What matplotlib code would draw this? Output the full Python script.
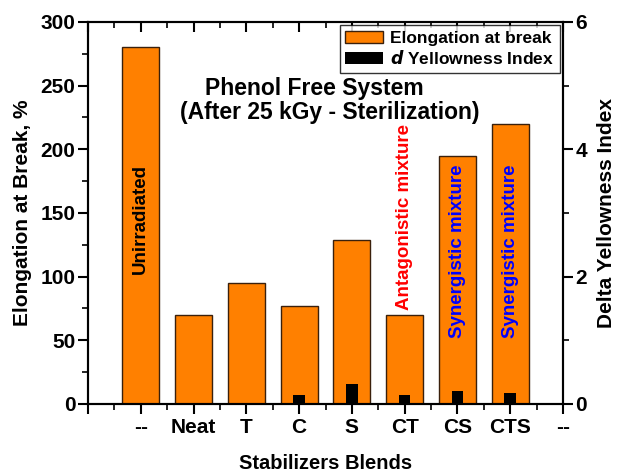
import numpy as np
import matplotlib
matplotlib.use('Agg')
import matplotlib.pyplot as plt
from matplotlib.ticker import MultipleLocator, FixedLocator

plt.rcParams['font.family'] = ['Liberation Sans', 'DejaVu Sans']
plt.rcParams['font.weight'] = 'bold'

# Data
labels = ['', '--', 'Neat', 'T', 'C', 'S', 'CT', 'CS', 'CTS', '--']
blends = ['--', 'Neat', 'T', 'C', 'S', 'CT', 'CS', 'CTS']
elongation = [280, 70, 95, 77, 129, 70, 195, 220]
d_yellowness = [0, 0, 0, 0.14, 0.31, 0.14, 0.20, 0.18]
notes = ['Unirradiated', '', '', '', '', 'Antagonistic mixture',
         'Synergistic mixture', 'Synergistic mixture']
note_colors = ['black', 'black', 'black', 'black', 'black', 'red', 'blue', 'blue']
note_y = [145, 0, 0, 0, 0, 147, 120, 120]

x = np.arange(1, len(blends) + 1)

fig = plt.figure(figsize=(6.23, 4.73), dpi=100)
ax = fig.add_axes([0.1413, 0.1459, 0.7624, 0.8076])
ax2 = ax.twinx()

b1 = ax.bar(x, elongation, width=0.7, color='#FF8000', edgecolor='#3a200c', linewidth=1)
b2 = ax2.bar(x, d_yellowness, width=0.22, color='black')

ax.set_xlim(0, 9)
ax.set_ylim(0, 300)
ax2.set_ylim(0, 6)

ax.xaxis.set_major_locator(FixedLocator(range(10)))
ax.set_xticklabels(labels)
ax.xaxis.set_minor_locator(FixedLocator(np.arange(0.5, 9, 1)))
ax.yaxis.set_major_locator(MultipleLocator(50))
ax.yaxis.set_minor_locator(MultipleLocator(25))
ax2.yaxis.set_major_locator(MultipleLocator(2))
ax2.yaxis.set_minor_locator(MultipleLocator(1))

for a in (ax, ax2):
    for s in a.spines.values():
        s.set_linewidth(1.5)
ax.tick_params(axis='x', which='major', direction='out', length=7, width=1.5,
               labelsize=15, pad=3)
ax.tick_params(axis='x', which='minor', direction='out', length=4, width=1.2)
ax.tick_params(axis='x', which='both', top=True)
ax.tick_params(axis='y', which='major', direction='out', length=7, width=1.5, labelsize=15, pad=2)
ax.tick_params(axis='y', which='minor', direction='out', length=4, width=1.2)
ax2.tick_params(axis='y', which='major', direction='out', length=7, width=1.5, labelsize=15, pad=2)
ax2.tick_params(axis='y', which='minor', direction='out', length=4, width=1.2)

# top ticks point inward
for t in ax.xaxis.get_major_ticks() + ax.xaxis.get_minor_ticks():
    t.tick2line.set_marker(3)

ax.set_xlabel('Stabilizers Blends', fontsize=14.5, fontweight='bold', labelpad=12)
ax.set_ylabel('Elongation at Break, %', fontsize=15, fontweight='bold', labelpad=6)
ax2.set_ylabel('Delta Yellowness Index', fontsize=15, fontweight='bold', labelpad=7)

for xi, txt, c, yc in zip(x, notes, note_colors, note_y):
    if txt:
        ax.text(xi, yc, txt, rotation=90, ha='center', va='center', color=c,
                fontsize=13.5, fontweight='bold')

ax.text(4.28, 248, 'Phenol Free System', ha='center', va='center',
        fontsize=16.5, fontweight='bold')
ax.text(4.585, 229, '(After 25 kGy - Sterilization)', ha='center', va='center',
        fontsize=16.5, fontweight='bold')

leg = ax.legend([b1, b2], ['Elongation at break', r'$\mathit{d}$ Yellowness Index'],
                loc='upper right', fontsize=12.5, frameon=True, fancybox=False,
                edgecolor='black', borderaxespad=0.2, handlelength=2.2,
                handletextpad=0.4, borderpad=0.3, labelspacing=0.2)
leg.get_frame().set_linewidth(1)
leg.set_zorder(5)

fig.savefig('out.png', dpi=100)
